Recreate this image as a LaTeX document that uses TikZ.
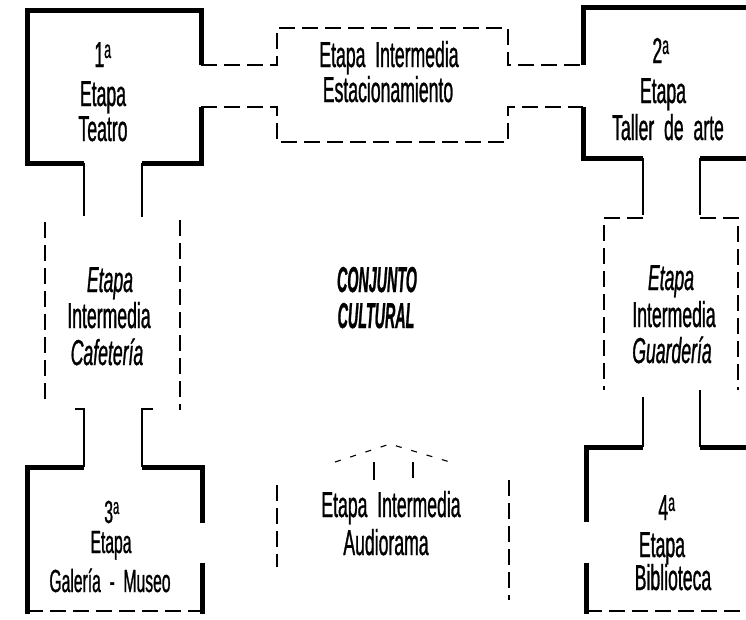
\documentclass[tikz,border=0pt]{standalone}
\usepackage{fontspec}
\setmainfont[FakeStretch=0.49, WordSpace=2, FakeBold=0.8]{Liberation Sans}
\begin{document}
\begin{tikzpicture}[x=1pt,y=-1pt,
  wall/.style={line width=5pt, line join=miter},
  thinl/.style={line width=1.1pt},
  brk/.style={line width=1.1pt, dash pattern=on 16pt off 7pt},
  roof/.style={line width=1.1pt, dash pattern=on 6pt off 10pt},
  lbl/.style={inner sep=0pt, anchor=base, font=\fontsize{36}{36}\selectfont},
  lbls/.style={inner sep=0pt, anchor=base, font=\fontsize{32}{32}\selectfont}]
\useasboundingbox (0,0) rectangle (746,619);
% ---- Stage 1: Teatro
\draw[wall] (201,65) -- (201,10) -- (27,10) -- (27,163) -- (84,163);
\draw[wall] (142,163) -- (201,163) -- (201,107);
% ---- Stage 2: Taller de arte
\draw[wall] (583,65) -- (583,7) -- (752,7);
\draw[wall] (583,107) -- (583,158) -- (643,158);
\draw[wall] (700,158) -- (752,158);
% ---- Stage 3: Galeria - Museo
\draw[wall] (84,467) -- (27,467) -- (27,614);
\draw[wall] (142,467) -- (202,467) -- (202,523);
\draw[wall] (202,563) -- (202,614);
\draw[brk] (27,611) -- (202,611);
% ---- Stage 4: Biblioteca
\draw[wall] (643,447) -- (586,447) -- (586,522);
\draw[wall] (586,563) -- (586,614);
\draw[wall] (700,447) -- (752,447);
\draw[brk] (586,611) -- (746,611);
% ---- Estacionamiento
\draw[brk] (201,65) -- (277,65) -- (277,28) -- (508,28) -- (508,65) -- (583,65);
\draw[brk] (201,107) -- (277,107) -- (277,142) -- (508,142) -- (508,107) -- (583,107);
% ---- Cafeteria
\draw[thinl] (84,163) -- (84,216);
\draw[thinl] (142,163) -- (142,217);
\draw[brk] (45,222) -- (45,402);
\draw[brk] (180,220) -- (180,410);
\draw[thinl] (75,409) -- (84,409) -- (84,467);
\draw[thinl] (153,409) -- (142,409) -- (142,467);
% ---- Guarderia
\draw[thinl] (643,158) -- (643,215);
\draw[brk] (643,218) -- (604,218) -- (604,390);
\draw[thinl] (700,158) -- (700,215);
\draw[brk] (700,218) -- (738,218) -- (738,390);
\draw[thinl] (643,397) -- (643,447);
\draw[thinl] (700,390) -- (700,447);
% ---- Audiorama
\draw[brk] (277,485) -- (277,567);
\draw[brk] (509,480) -- (509,600);
\draw[roof] (335,462) -- (390,444) -- (450,462);
\draw[thinl] (374,462) -- (374,480);
\draw[thinl] (413,462) -- (413,478);
% ---- Labels
\node[lbl] (a1) at (103,67) {1\textsuperscript{a}};
\node[lbl] (a2) at (103,106) {Etapa};
\node[lbl] (a3) at (103,141) {Teatro};
\node[lbl] (e1) at (389,67) {Etapa Intermedia};
\node[lbl] (e2) at (388,102) {Estacionamiento};
\node[lbl] (b1) at (661,63) {2\textsuperscript{a}};
\node[lbl] (b2) at (663,103) {Etapa};
\node[lbl] (b3) at (668,140) {Taller de arte};
\node[lbl] (c1) at (110,292) {\itshape Etapa};
\node[lbl] (c2) at (109,328) {Intermedia};
\node[lbl] (c3) at (107,365) {\itshape Cafetería};
\node[lbl] (g1) at (671,290) {\itshape Etapa};
\node[lbl] (g2) at (674,327) {Intermedia};
\node[lbl] (g3) at (672,363) {\itshape Guardería};
\node[lbl] (k1) at (377,292) {\scalebox{0.81}[1]{\bfseries\itshape CONJUNTO}};
\node[lbl] (k2) at (376,328) {\scalebox{0.81}[1]{\bfseries\itshape CULTURAL}};
\node[lbls] (d1) at (112,523) {3\textsuperscript{a}};
\node[lbls] (d2) at (111,553) {Etapa};
\node[lbls] (d3) at (110,592) {Galería - Museo};
\node[lbl] (u1) at (391,517) {Etapa Intermedia};
\node[lbl] (u2) at (386,555) {Audiorama};
\node[lbl] (f1) at (667,520) {4\textsuperscript{a}};
\node[lbl] (f2) at (662,557) {Etapa};
\node[lbl] (f3) at (673,590) {Biblioteca};
\end{tikzpicture}
\end{document}
